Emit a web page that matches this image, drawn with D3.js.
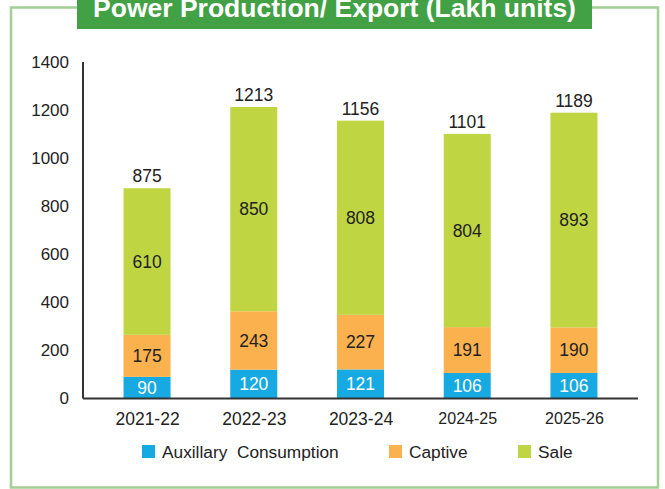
<!DOCTYPE html>
<html><head><meta charset="utf-8">
<script src="https://cdn.jsdelivr.net/npm/d3@7"></script>
<style>
html,body{margin:0;padding:0;background:#fff;}
svg{display:block;font-family:Arial,"Liberation Sans",Helvetica,sans-serif;}
</style></head>
<body>
<svg id="chart" width="665" height="489"></svg>
<script>
const categories = ["2021-22","2022-23","2023-24","2024-25","2025-26"];
const auxillary = [90,120,121,106,106];
const captive = [175,243,227,191,190];
const sale = [610,850,808,804,893];
const totals = [875,1213,1156,1101,1189];
const seriesNames = ["Auxillary  Consumption","Captive","Sale"];
const yTicks = [0,200,400,600,800,1000,1200,1400];
const colors = ["#17a9e1","#fbb24e","#bfd642"];

const svg = d3.select("#chart");
const x0 = 83, x1 = 638, yBase = 398.5, yTop = 62;

// frame
svg.append("rect").attr("x",11).attr("y",7.5).attr("width",647).attr("height",480)
  .attr("fill","none").attr("stroke","#a3cf96").attr("stroke-width",2.5);
// title box
svg.append("rect").attr("x",77).attr("y",-2).attr("width",515).attr("height",31).attr("fill","#42a045");
svg.append("text").attr("x",334.5).attr("y",16.5).attr("text-anchor","middle")
  .attr("fill","#fff").attr("font-weight","bold").attr("font-size",26.5)
  .text("Power Production/ Export (Lakh units)");

const x = d3.scalePoint().domain(categories).range([x0,x1]).padding(0.6);
const y = d3.scaleLinear().domain([0,1400]).range([yBase,yTop]);
const bw = 47;

const rows = categories.map((c,i)=>({cat:c, v:[auxillary[i],captive[i],sale[i]], total:totals[i]}));
const stack = d3.stack().keys([0,1,2]).value((d,k)=>d.v[k]);
const layers = stack(rows);

const g = svg.append("g");
layers.forEach((layer,k)=>{
  g.selectAll(null).data(layer).join("rect")
    .attr("x",d=>x(d.data.cat)-bw/2).attr("width",bw)
    .attr("y",d=>y(d[1])).attr("height",d=>y(d[0])-y(d[1]))
    .attr("fill",colors[k]);
  g.selectAll(null).data(layer).join("text")
    .attr("x",d=>x(d.data.cat)).attr("y",d=>(y(d[0])+y(d[1]))/2)
    .attr("dy","0.36em").attr("text-anchor","middle").attr("font-size",17.5)
    .attr("fill",k===0?"#fff":"#222")
    .text(d=>d.data.v[k]);
});
// totals
g.selectAll(null).data(rows).join("text")
  .attr("x",d=>x(d.cat)).attr("y",d=>y(d3.sum(d.v))-6)
  .attr("text-anchor","middle").attr("font-size",17.5).attr("fill","#222")
  .text(d=>d.total);

// axes
const yAxis = d3.axisLeft(y).tickValues(yTicks).tickSize(0).tickPadding(14).tickFormat(d3.format("d"));
const ya = svg.append("g").attr("transform",`translate(${x0},0)`).call(yAxis);
ya.select(".domain").remove();
ya.selectAll("text").attr("font-size",17).attr("fill","#222").attr("font-family",null);
svg.append("line").attr("x1",x0).attr("x2",x0).attr("y1",yTop).attr("y2",yBase)
  .attr("stroke","#333").attr("stroke-width",2);

const xAxis = d3.axisBottom(x).tickSize(0).tickPadding(14);
const xa = svg.append("g").attr("transform",`translate(0,${yBase})`).call(xAxis);
xa.select(".domain").remove();
xa.selectAll("text").attr("font-size",(d,i)=>i<3?17.5:16).attr("fill","#222").attr("font-family",null);
svg.append("line").attr("x1",x0).attr("x2",x1).attr("y1",yBase).attr("y2",yBase)
  .attr("stroke","#333").attr("stroke-width",2);

// legend
const legX = [142,389,518];
const leg = svg.append("g");
seriesNames.forEach((n,k)=>{
  leg.append("rect").attr("x",legX[k]).attr("y",445).attr("width",13).attr("height",13).attr("fill",colors[k]);
  leg.append("text").attr("x",legX[k]+20).attr("y",457.5).attr("font-size",17.3).attr("fill","#222")
    .attr("xml:space","preserve").style("white-space","pre").text(n);
});
</script>
</body></html>
